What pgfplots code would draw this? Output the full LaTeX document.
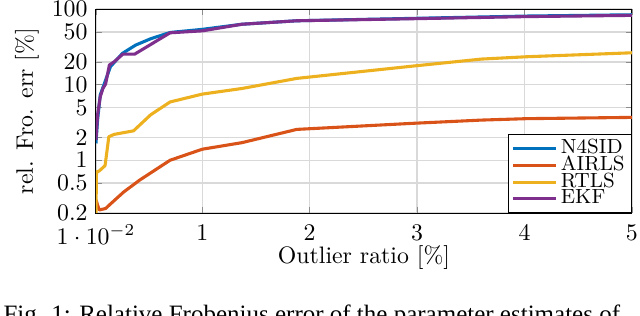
\documentclass[border=0pt]{standalone}
\usepackage{pgfplots}
\pgfplotsset{compat=1.18}
\usepackage{fontspec}
\newfontfamily\capfont{Liberation Serif}
\definecolor{cBlue}{rgb}{0,0.447,0.741}
\definecolor{cOrange}{rgb}{0.85,0.325,0.098}
\definecolor{cYellow}{rgb}{0.929,0.694,0.125}
\definecolor{cPurple}{rgb}{0.494,0.184,0.556}
\begin{document}
\begin{tikzpicture}
\begin{axis}[
  at={(0,0)}, anchor=south west,
  scale only axis, width=225.1pt, height=85.7pt,
  ymode=log,
  xmin=0.01, xmax=5, ymin=0.2, ymax=100,
  xtick={0.01,1,2,3,4,5},
  ytick={0.2,0.5,1,2,5,10,20,50,100},
  yticklabels={$0.2$,$0.5$,$1$,$2$,$5$,$10$,$20$,$50$,$100$},
  minor ytick={},
  grid=major,
  major grid style={black!15, line width=0.6pt},
  tick style={black!45},
  major tick length=2.5pt,
  xticklabel style={yshift=-1.5pt},
  xlabel={Outlier ratio [\%]},
  ylabel={rel. Fro. err [\%]},
  xlabel style={at={(axis description cs:0.5,-0.2157)}, anchor=center},
  ylabel style={at={(axis description cs:-0.1287,0.5)}, anchor=center},
  legend cell align=left,
  legend style={at={(1,0)}, anchor=south east, font=\fontsize{8.6}{8.6}\selectfont,
    draw=black, line width=0.5pt, row sep=-1.1pt, inner xsep=1.5pt, inner ysep=1.8pt,
    nodes={inner ysep=0.3pt, inner xsep=1.3pt}},
  legend image code/.code={\draw[#1] (0pt,0pt) -- (18pt,0pt);},
  every axis plot/.append style={line width=1.3pt, line join=round},
  clip=true,
]
\addplot[cBlue] coordinates {(0.01,1.67) (0.025,3.4) (0.05,7.3) (0.1,11.5) (0.145,17.3) (0.256,25.9) (0.38,33.4) (0.52,40.5) (0.7,49) (1.0,53.9) (1.37,63) (1.88,70) (2.96,75.3) (4.02,80.8) (5,84)};
\addlegendentry{N4SID}
\addplot[cOrange] coordinates {(0.01,0.3) (0.04,0.22) (0.1,0.23) (0.14,0.26) (0.268,0.38) (0.42,0.55) (0.7,1.0) (1.0,1.4) (1.37,1.71) (1.88,2.56) (2.96,3.08) (3.6,3.4) (4.02,3.55) (5,3.69)};
\addlegendentry{AIRLS}
\addplot[cYellow] coordinates {(0.01,0.2) (0.015,0.7) (0.04,0.72) (0.095,0.85) (0.13,2.05) (0.18,2.2) (0.36,2.45) (0.52,4.0) (0.7,5.9) (1.0,7.5) (1.37,8.9) (1.88,12.1) (2.96,17.6) (3.6,21.8) (4.02,23.4) (5,26.4)};
\addlegendentry{RTLS}
\addplot[cPurple] coordinates {(0.01,1.85) (0.025,3.96) (0.05,6.9) (0.075,8.9) (0.1,10.2) (0.135,18.2) (0.18,20.1) (0.26,25.3) (0.37,25.3) (0.7,48.5) (1.0,51.5) (1.37,63) (1.88,70) (2.96,74.5) (4.02,79.5) (5,82.5)};
\addlegendentry{EKF}
\end{axis}
\node[anchor=base west, font=\capfont\fontsize{10.5}{12}\selectfont, inner sep=0pt] at (-39pt,-45.8pt) {Fig. 1: Relative Frobenius error of the parameter estimates of};
\pgfresetboundingbox
\path[use as bounding box] (-40.3pt,-42.8pt) rectangle (228.5pt,89.5pt);
\end{tikzpicture}
\end{document}
